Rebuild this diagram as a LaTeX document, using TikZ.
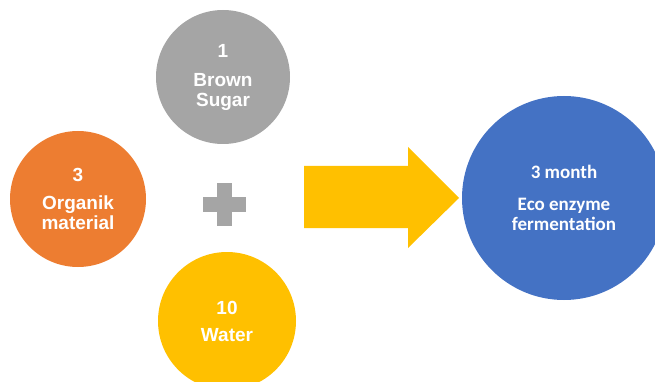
\documentclass[tikz,border=0pt]{standalone}
\usepackage{fontspec}
\setmainfont{Liberation Sans}
\newfontfamily\calib{Carlito}
\usepackage{xcolor}
\usetikzlibrary{positioning, calc}
\definecolor{sugargray}{HTML}{A5A5A5}
\definecolor{orgorange}{HTML}{ED7D31}
\definecolor{wateryellow}{HTML}{FFC000}
\definecolor{enzblue}{HTML}{4472C4}

\begin{document}
\begin{tikzpicture}[x=1pt, y=-1pt, ingredient/.style={circle, draw=none, text=white, align=center, font=\bfseries\fontsize{19}{20}\selectfont, minimum size=136pt, inner sep=0pt}, result/.style={circle, draw=none, text=white, align=center, font=\calib\bfseries\fontsize{19}{20}\selectfont, minimum size=204pt, inner sep=0pt}, plusbar/.style={fill=sugargray, draw=none}, bigarrow/.style={fill=wateryellow, draw=none}]
    \useasboundingbox (0,0) rectangle (655,382);

    %Nodes
    \node[ingredient, fill=sugargray, minimum size=134pt](sugar) at (223,77){1\\[9pt]Brown\\Sugar};
    \node[ingredient, fill=orgorange](organic) at (78,199){3\\[8pt]Organik\\material};
    \node[ingredient, fill=wateryellow, minimum size=138pt](water) at (227,321){10\\[7pt]Water};
    \node[result, fill=enzblue](enzyme) at (564,198){3 month\\[12pt]Eco enzyme\\fermentation};
    \coordinate (plus) at (224.5,204.5);

    %Plus
    \fill[plusbar] ($(plus)+(-21.5,-7.5)$) rectangle ($(plus)+(21.5,7.5)$);
    \fill[plusbar] ($(plus)+(-7.5,-21.5)$) rectangle ($(plus)+(7.5,21.5)$);

    %Arrow
    \fill[bigarrow] (304,166) -- (408,166) -- (408,147) -- (459,198) -- (408,248) -- (408,228) -- (304,228) -- cycle;

\end{tikzpicture}
\end{document}
